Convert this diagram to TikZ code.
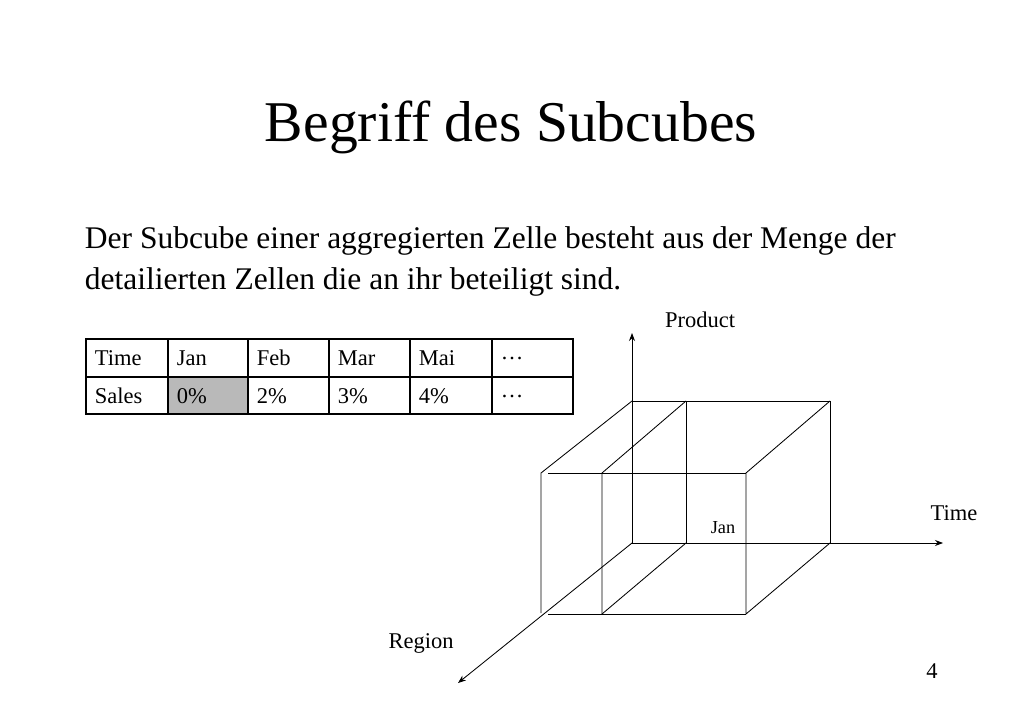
\documentclass[tikz,border=0pt]{standalone}
\usepackage{fontspec}
\setmainfont{Liberation Serif}
\usetikzlibrary{arrows.meta}

\begin{document}
\begin{tikzpicture}[x=0.025cm, y=-0.025cm,
  cell/.style={anchor=west, font=\fontsize{16}{18}\selectfont},
  axis/.style={-{Stealth[length=2mm]}, semithick},
  edge/.style={semithick},
  lbl/.style={font=\fontsize{16}{18}\selectfont}]

\useasboundingbox (0,0) rectangle (1024,709);

\node (title) at (511,127) {\fontsize{41}{48}\selectfont Begriff des Subcubes};
\node[anchor=north west, align=left, font=\fontsize{22.4}{29}\selectfont] (text) at (80,222)
  {Der Subcube einer aggregierten Zelle besteht aus der Menge der\\detailierten Zellen die an ihr beteiligt sind.};

% table
\fill[gray!55] (168,377) rectangle (248,414);
\draw[line width=0.8pt] (86,377) -- (573,377);
\foreach \x in {168,248,329,410,492}
  \draw[line width=0.8pt] (\x,339) -- (\x,414);
\draw[line width=1.6pt] (86,339) rectangle (573,414);

\node[cell] (t1) at (90,358) {Time};
\node[cell] (t2) at (172,358) {Jan};
\node[cell] (t3) at (252,358) {Feb};
\node[cell] (t4) at (333,358) {Mar};
\node[cell] (t5) at (414,358) {Mai};
\node[cell] (t6) at (496,358) {…};
\node[cell] (s1) at (90,396) {Sales};
\node[cell] (s2) at (172,396) {0\%};
\node[cell] (s3) at (252,396) {2\%};
\node[cell] (s4) at (333,396) {3\%};
\node[cell] (s5) at (414,396) {4\%};
\node[cell] (s6) at (496,396) {…};

% cube corners
\coordinate (O) at (632,543);
\coordinate (P) at (632,333);
\coordinate (T) at (943,543);
\coordinate (R) at (458,683);
\coordinate (btl) at (632,401);
\coordinate (bmt) at (686,401);
\coordinate (btr) at (830,401);
\coordinate (bmb) at (686,543);
\coordinate (bbr) at (830,543);
\coordinate (ftl) at (541,473);
\coordinate (fmt) at (602,473);
\coordinate (ftr) at (746,473);
\coordinate (fbl) at (541,614);
\coordinate (fmb) at (602,614);
\coordinate (fbr) at (746,614);

\draw[axis] (O) -- (P);
\draw[axis] (O) -- (T);
\draw[axis] (O) -- (R);

\draw[edge] (btl) -- (btr) -- (bbr);
\draw[edge] (bmt) -- (bmb);
\draw[edge] (btl) -- (ftl) -- (541,613);
\draw[edge] (bmt) -- (fmt) -- (fmb);
\draw[edge] (btr) -- (ftr) -- (fbr) -- (bbr);
\draw[edge] (bmb) -- (fmb);
\draw[edge] (548,473) -- (ftr);
\draw[edge] (548,614) -- (fbr);

\node[lbl] (lp) at (700,320) {Product};
\node[lbl] (lt) at (954,513) {Time};
\node[lbl] (lr) at (421,643) {Region};
\node[font=\fontsize{13}{15}\selectfont] (lj) at (723,528) {Jan};
\node[lbl] (pg) at (932,671) {4};
\end{tikzpicture}
\end{document}
